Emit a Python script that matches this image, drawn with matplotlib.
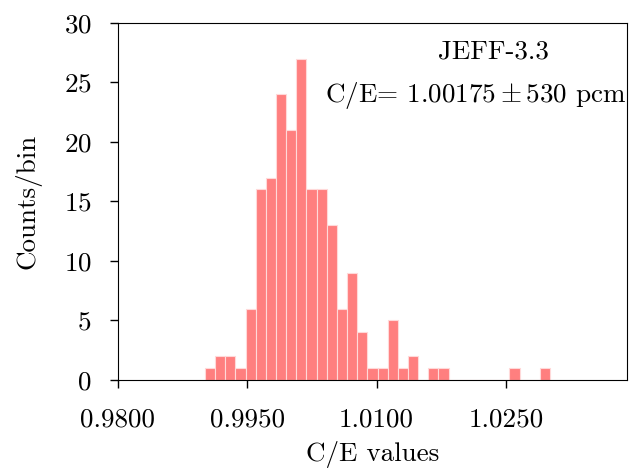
import matplotlib
matplotlib.use("Agg")
import matplotlib.pyplot as plt
import numpy as np

# Histogram data (34 bins from 0.9901 to 1.0301)
bin_start = 0.9901
bin_stop = 1.0301
counts = [1, 2, 2, 1, 6, 16, 17, 24, 21, 27, 16, 16, 13, 6, 9, 4, 1, 1,
          5, 1, 2, 0, 1, 1, 0, 0, 0, 0, 0, 0, 1, 0, 0, 1]
xticks = [0.9800, 0.9950, 1.0100, 1.0250]
xtick_labels = ["0.9800", "0.9950", "1.0100", "1.0250"]
yticks = [0, 5, 10, 15, 20, 25, 30]

plt.rcParams['font.family'] = 'serif'
plt.rcParams['font.serif'] = ['cmr10']
plt.rcParams['mathtext.fontset'] = 'cm'
plt.rcParams['axes.unicode_minus'] = False
plt.rcParams['axes.formatter.use_mathtext'] = True

FS = 19.5

fig = plt.figure(figsize=(6.3, 4.7), dpi=100)
ax = fig.add_axes([0.187, 0.1915, 0.808, 0.76])

edges = np.linspace(bin_start, bin_stop, len(counts) + 1)
ax.bar(edges[:-1], counts, width=np.diff(edges), align='edge',
       color='#ff7f7f', edgecolor='#ffd9d9', linewidth=0.8)

ax.set_xlim(0.98, 1.039)
ax.set_ylim(0, 30)
ax.set_xticks(xticks)
ax.set_xticklabels(xtick_labels)
ax.set_yticks(yticks)
ax.tick_params(direction='out', length=6, width=1, labelsize=FS)
ax.tick_params(axis='x', pad=14)
ax.tick_params(axis='y', pad=13)
ax.set_xlabel('C/E values', fontsize=FS, labelpad=7)
ax.set_ylabel('Counts/bin', fontsize=FS, labelpad=16)

ax.text(0.737, 0.92, 'JEFF-3.3', transform=ax.transAxes, ha='center',
        va='center', fontsize=FS)
ax.text(0.703, 0.797, r'C/E= $1.00175\pm530$ pcm', transform=ax.transAxes,
        ha='center', va='center', fontsize=FS, clip_on=False)

fig.savefig('out.png', dpi=100)
